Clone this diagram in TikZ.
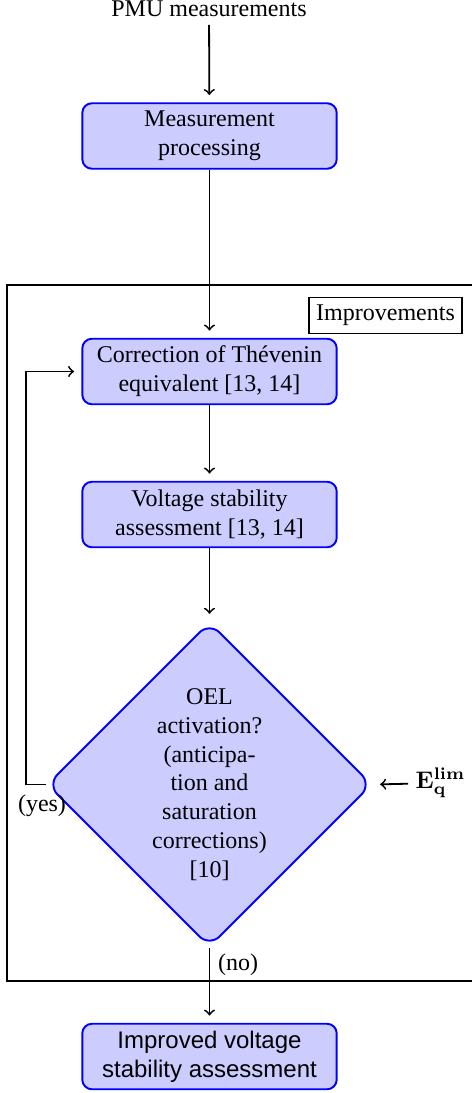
\documentclass[tikz,border=0pt]{standalone}
\usepackage[no-math]{fontspec}
\setmainfont{Liberation Serif}
\newfontfamily\helv{Liberation Sans}
\usetikzlibrary{shapes.geometric,calc}
\begin{document}
\begin{tikzpicture}[x=0.41667pt,y=-0.41667pt,
  proc/.style={draw=blue, fill=blue!20, line width=0.8pt, rounded corners=4pt,
    minimum width=106pt, minimum height=27.3pt, align=center, inner sep=2pt},
  decision/.style={diamond, draw=blue, fill=blue!20, line width=0.8pt, rounded corners=6pt,
    minimum width=135.4pt, minimum height=135.4pt, inner sep=0pt, aspect=1},
  plain/.style={align=center, inner sep=2pt},
  arr/.style={->, line width=0.75pt, shorten >=3pt},
  region/.style={draw, line width=0.45pt},
  tag/.style={draw, line width=0.45pt, inner sep=3pt}]
\useasboundingbox (0,0) rectangle (472,1093);
% improvements region
\draw[region] (7,285) rectangle (480,981);
\node[tag] (impr) at (385.5,315.5) {Improvements};
% nodes
\node[anchor=base, inner sep=3pt] (pmu) at (209,17) {PMU measurements};
\node[proc] (mp) at (209.5,136) {Measurement\\processing};
\node[proc] (corr) at (209.5,371.5) {Correction of Th\'evenin\\equivalent [13, 14]};
\node[proc] (vsa) at (209.5,514.5) {Voltage stability\\assessment [13, 14]};
\node[decision] (dec) at (209.5,784.5) {};
\node[plain] (dectext) at (209.5,784.5) {OEL\\activation?\\(anticipa-\\tion and\\saturation\\corrections)\\{[10]}};
\node[proc, font=\helv] (ivsa) at (209.5,1056.5) {Improved voltage\\stability assessment};
\node[inner sep=3pt] (elim) at (440.5,783) {$\mathbf{E}_{\mathbf{q}}^{\mathbf{lim}}$};
\node[inner sep=0pt] (yes) at (42,806) {(yes)};
\node[inner sep=0pt] (no) at (238,965) {(no)};
% connectors
\draw[arr] (pmu) -- (mp);
\draw[arr] (mp) -- (corr);
\draw[arr] (corr) -- (vsa);
\draw[arr] (vsa) -- (dec);
\draw[arr] (dec.south) -- (ivsa);
\draw[arr] (elim) -- (dec.east);
\draw[arr] (dec.west) -- ($(dec.west)+(-20,0)$) |- (corr.west);
\end{tikzpicture}
\end{document}
